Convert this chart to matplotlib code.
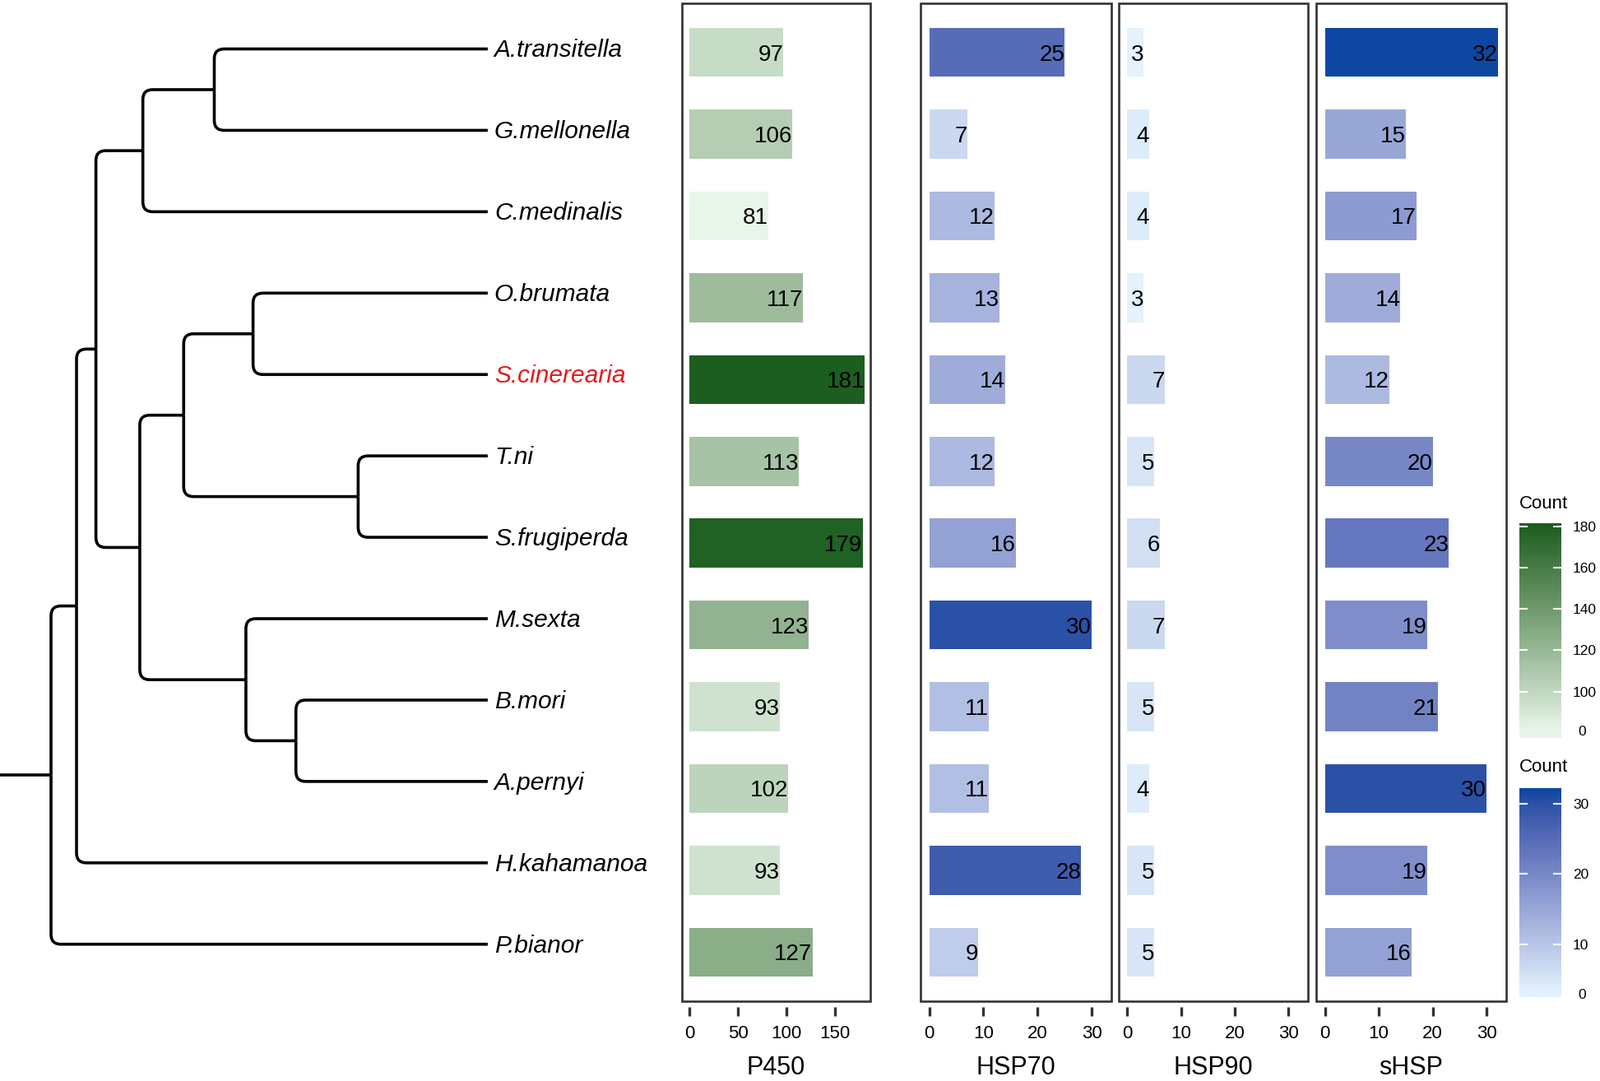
import matplotlib
matplotlib.use("Agg")
import matplotlib.pyplot as plt
import numpy as np
from matplotlib.path import Path
from matplotlib.patches import PathPatch, Rectangle
from matplotlib.colors import ListedColormap, Normalize

plt.rcParams['font.family'] = ['Liberation Sans', 'DejaVu Sans']

# ---- data ----
species = ['A.transitella', 'G.mellonella', 'C.medinalis', 'O.brumata', 'S.cinerearia', 'T.ni',
           'S.frugiperda', 'M.sexta', 'B.mori', 'A.pernyi', 'H.kahamanoa', 'P.bianor']
p450 = [97, 106, 81, 117, 181, 113, 179, 123, 93, 102, 93, 127]
hsp70 = [25, 7, 12, 13, 14, 12, 16, 30, 11, 11, 28, 9]
hsp90 = [3, 4, 4, 3, 7, 5, 6, 7, 5, 4, 5, 5]
shsp = [32, 15, 17, 14, 12, 20, 23, 19, 21, 30, 19, 16]
highlight = 'S.cinerearia'

# tree topology and node depths
tree_children = {
    'root': ['n1', 'P.bianor'],
    'n1': ['n2', 'H.kahamanoa'],
    'n2': ['n3', 'n5'],
    'n3': ['n4', 'C.medinalis'],
    'n4': ['A.transitella', 'G.mellonella'],
    'n5': ['n6', 'n9'],
    'n6': ['n7', 'n8'],
    'n7': ['O.brumata', 'S.cinerearia'],
    'n8': ['T.ni', 'S.frugiperda'],
    'n9': ['M.sexta', 'n10'],
    'n10': ['B.mori', 'A.pernyi'],
}
node_depth = {'root': 50, 'n1': 75, 'n2': 94, 'n3': 140, 'n4': 210, 'n5': 137,
              'n6': 180, 'n7': 248, 'n8': 351, 'n9': 241, 'n10': 290}
tip_depth = 478


# ---- colour scales (Lab interpolation like ggplot) ----
def hex2rgb(h):
    return np.array([int(h[i:i + 2], 16) for i in (1, 3, 5)]) / 255.0


M = np.array([[0.4124, 0.3576, 0.1805], [0.2126, 0.7152, 0.0722], [0.0193, 0.1192, 0.9505]])
WHITE = np.array([0.95047, 1.0, 1.08883])


def to_lab(rgb):
    c = np.where(rgb <= 0.04045, rgb / 12.92, ((rgb + 0.055) / 1.055) ** 2.4)
    t = (M @ c) / WHITE
    f = np.where(t > 0.008856, np.cbrt(t), 7.787 * t + 16 / 116)
    return np.array([116 * f[1] - 16, 500 * (f[0] - f[1]), 200 * (f[1] - f[2])])


def from_lab(lab):
    fy = (lab[0] + 16) / 116
    f = np.array([fy + lab[1] / 500, fy, fy - lab[2] / 200])
    t = np.where(f ** 3 > 0.008856, f ** 3, (f - 16 / 116) / 7.787)
    lin = np.linalg.solve(M, t * WHITE)
    lin = np.clip(lin, 0, 1)
    rgb = np.where(lin <= 0.0031308, lin * 12.92, 1.055 * lin ** (1 / 2.4) - 0.055)
    return np.clip(rgb, 0, 1)


def lab_cmap(low, high, n=256):
    a, b = to_lab(hex2rgb(low)), to_lab(hex2rgb(high))
    return ListedColormap([from_lab(a + (b - a) * t) for t in np.linspace(0, 1, n)])


green = lab_cmap('#e8f5e9', '#1b5e20')
blue = lab_cmap('#e3f2fd', '#0d47a1')
gnorm = Normalize(min(p450), max(p450))
bnorm = Normalize(min(hsp70 + hsp90 + shsp), max(hsp70 + hsp90 + shsp))

W, H = 1945, 1314
fig = plt.figure(figsize=(W / 100, H / 100), dpi=100)


def rect(x0, y0, x1, y1):
    return [x0 / W, 1 - y1 / H, (x1 - x0) / W, (y1 - y0) / H]


# ---- tree ----
tax = fig.add_axes(rect(0, 4, 829, 1217))
tax.set_xlim(0, 829 / 1.2404)
tax.set_ylim(11.70, -0.561)
tax.axis('off')

ypos = {s: i for i, s in enumerate(species)}


def node_y(n):
    if n not in ypos:
        ypos[n] = np.mean([node_y(c) for c in tree_children[n]])
    return ypos[n]


node_y('root')
rx, ry = 12 / 1.2404, 12 / 98.9
lw = 2.6
for p, kids in tree_children.items():
    xp, yp = node_depth[p], ypos[p]
    for c in kids:
        xc, yc = node_depth.get(c, tip_depth), ypos[c]
        s = np.sign(yc - yp)
        verts = [(xp, yp), (xp, yc - s * ry), (xp, yc), (xp + rx, yc), (xc, yc)]
        codes = [Path.MOVETO, Path.LINETO, Path.CURVE3, Path.CURVE3, Path.LINETO]
        tax.add_patch(PathPatch(Path(verts, codes), fill=False, lw=lw, color='black',
                                capstyle='butt', joinstyle='round'))
tax.plot([0, node_depth['root']], [ypos['root']] * 2, color='black', lw=lw,
         solid_capstyle='butt')
for s in species:
    tax.text(tip_depth + 6.4, ypos[s] + 0.02, s, style='italic', fontsize=21.5, va='center',
             ha='left', color='#e41a1c' if s == highlight else 'black')

# ---- bar panels ----
panels = [
    ('P450', p450, 829, 1058, (-8, 187), [0, 50, 100, 150], green, gnorm),
    ('HSP70', hsp70, 1119, 1351, (-1.6, 33.6), [0, 10, 20, 30], blue, bnorm),
    ('HSP90', hsp90, 1360, 1590, (-1.6, 33.6), [0, 10, 20, 30], blue, bnorm),
    ('sHSP', shsp, 1600, 1831, (-1.6, 33.6), [0, 10, 20, 30], blue, bnorm),
]
y = np.arange(len(species))
for title, vals, x0, x1, xlim, ticks, cmap, norm in panels:
    ax = fig.add_axes(rect(x0, 4, x1, 1217))
    ax.barh(y, vals, height=0.6, color=cmap(norm(np.array(vals))))
    for yi, v in zip(y, vals):
        ax.text(v, yi + 0.03, str(v), ha='right', va='center', fontsize=20)
    ax.set_xlim(*xlim)
    ax.set_ylim(11.6, -0.6)
    ax.set_yticks([])
    ax.set_xticks(ticks)
    for sp in ax.spines.values():
        sp.set_visible(False)
    ax.spines['bottom'].set_position(('outward', 5))
    ax.tick_params(axis='x', length=8, width=2.4, color='#333333', labelsize=16, pad=8)
    ax.add_patch(Rectangle((0, 0), 1, 1, transform=ax.transAxes, fill=False,
                           ec='#333333', lw=1.9, clip_on=False, zorder=5))
    fig.text((x0 + x1) / 2 / W, 1 - 1306 / H, title, ha='center', va='baseline', fontsize=22)

# ---- colour bars ----
legends = [
    (green, gnorm, 636, 897, (77.5, 181.6), [100, 120, 140, 160, 180], 613),
    (blue, bnorm, 958, 1212, (2.5, 32.2), [10, 20, 30], 933),
]
for cmap, norm, y0, y1, ylim, ticks, ty in legends:
    cax = fig.add_axes(rect(1847, y0, 1898, y1))
    grad = np.linspace(ylim[0], ylim[1], 300).reshape(-1, 1)
    cax.imshow(grad, cmap=cmap, norm=norm, aspect='auto', origin='lower',
               extent=[0, 1, ylim[0], ylim[1]])
    cax.set_xlim(0, 1)
    cax.set_ylim(*ylim)
    cax.set_xticks([])
    cax.set_yticks(ticks)
    cax.set_yticks([norm.vmin], minor=True)
    cax.set_yticklabels(['0'], minor=True)
    for sp in cax.spines.values():
        sp.set_visible(False)
    cax.tick_params(axis='y', which='major', direction='in', length=7, width=1.5,
                    color='white', left=True, right=True, labelleft=False,
                    labelright=True, labelsize=12.5, pad=10)
    cax.tick_params(axis='y', which='minor', length=0, left=False, right=True,
                    labelleft=False, labelright=True, labelsize=12.5, pad=15)
    fig.text(1847 / W, 1 - ty / H, 'Count', ha='left', va='center', fontsize=16)

fig.savefig('out.png', dpi=100)
